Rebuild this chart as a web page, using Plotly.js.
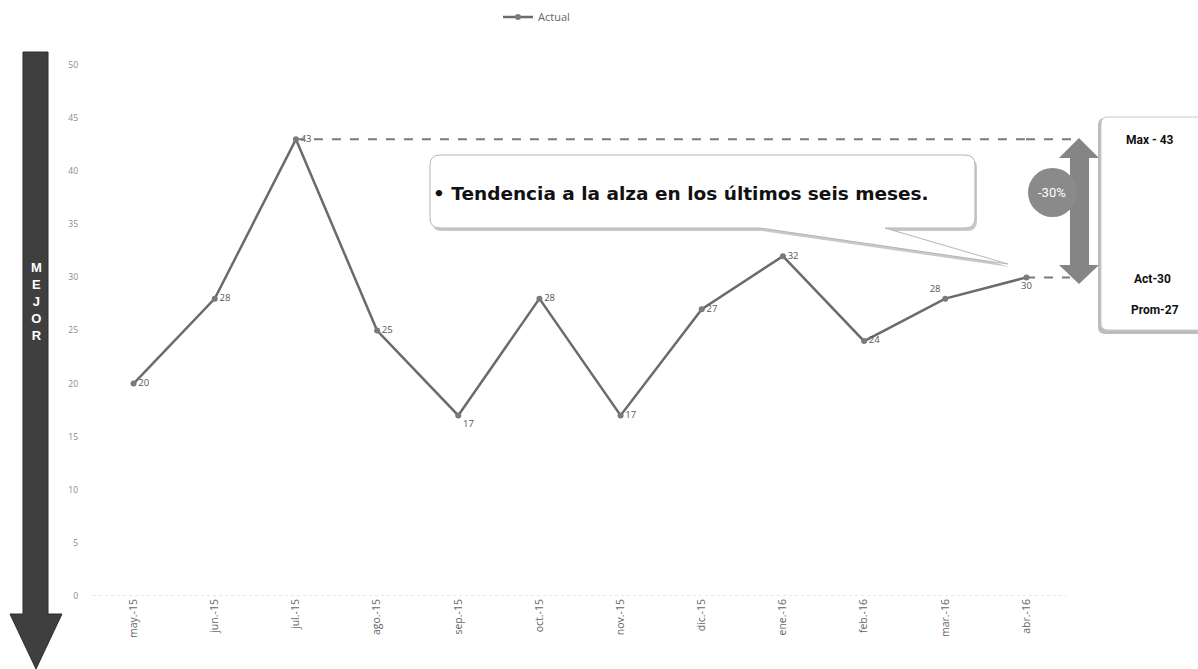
<!DOCTYPE html>
<html><head><meta charset="utf-8">
<script src="https://cdn.plot.ly/plotly-3.0.1.min.js"></script>
<style>body{margin:0;background:#fff}#chart{width:1198px;height:669px}</style>
</head><body><div id="chart"></div>
<script>
const categories = ["may.-15","jun.-15","jul.-15","ago.-15","sep.-15","oct.-15","nov.-15","dic.-15","ene.-16","feb.-16","mar.-16","abr.-16"];
const actual = [20,28,43,25,17,28,17,27,32,24,28,30];
const maxValue = 43;
const actValue = 30;
const promValue = 27;
const changeText = "-30%";
const yTicks = [0,5,10,15,20,25,30,35,40,45,50];

const labelPos = ["middle right","middle right","middle right","middle right","bottom right","middle right","middle right","middle right","middle right","middle right","top left","bottom center"];

const W = 1198, H = 669, L = 93, R = 131, T = 65, B = 73;
const pw = W - L - R, ph = H - T - B;
const px = x => (x - L) / pw;
const py = y => (H - B - y) / ph;
const P = (x, y) => px(x).toFixed(5) + "," + py(y).toFixed(5);

function roundRect(x0, y0, x1, y1, r) {
  return "M" + P(x0 + r, y0) + " L" + P(x1 - r, y0) + " Q" + P(x1, y0) + " " + P(x1, y0 + r) +
    " L" + P(x1, y1 - r) + " Q" + P(x1, y1) + " " + P(x1 - r, y1) +
    " L" + P(x0 + r, y1) + " Q" + P(x0, y1) + " " + P(x0, y1 - r) +
    " L" + P(x0, y0 + r) + " Q" + P(x0, y0) + " " + P(x0 + r, y0) + " Z";
}
function callout(dx, dy) {
  const x0 = 430 + dx, y0 = 155 + dy, x1 = 975 + dx, y1 = 228 + dy, r = 10;
  return "M" + P(x0 + r, y0) + " L" + P(x1 - r, y0) + " Q" + P(x1, y0) + " " + P(x1, y0 + r) +
    " L" + P(x1, y1 - r) + " Q" + P(x1, y1) + " " + P(x1 - r, y1) +
    " L" + P(885 + dx, y1) + " L" + P(1008 + dx, 264 + dy) + " L" + P(760 + dx, y1) +
    " L" + P(x0 + r, y1) + " Q" + P(x0, y1) + " " + P(x0, y1 - r) +
    " L" + P(x0, y0 + r) + " Q" + P(x0, y0) + " " + P(x0 + r, y0) + " Z";
}

const trace = {
  x: categories, y: actual, type: "scatter", mode: "lines+markers+text", name: "Actual",
  text: actual.map(String), textposition: labelPos,
  textfont: {family: "Open Sans, Liberation Sans, sans-serif", size: 9.5, color: "#555"},
  line: {color: "#6b6b6b", width: 2.5},
  marker: {color: "#7a7a7a", size: 6, symbol: "circle"},
  cliponaxis: false
};

const shapes = [
  {type: "line", xref: "paper", yref: "y", x0: 0, x1: 1, y0: 0, y1: 0, line: {color: "#cfcfcf", width: 1, dash: "dot"}},
  {type: "line", xref: "x", yref: "y", x0: 2, x1: 11, y0: maxValue, y1: maxValue, line: {color: "#7a7a7a", width: 2, dash: "dash"}},
  {type: "line", xref: "paper", yref: "y", x0: px(1026), x1: px(1076), y0: maxValue, y1: maxValue, line: {color: "#7a7a7a", width: 2, dash: "dash"}},
  {type: "line", xref: "paper", yref: "y", x0: px(1026), x1: px(1070), y0: actValue, y1: actValue, line: {color: "#7a7a7a", width: 2, dash: "dash"}},
  {type: "path", xref: "paper", yref: "paper", path: callout(2, 3), fillcolor: "#c8c8c8", line: {width: 0}, layer: "above"},
  {type: "path", xref: "paper", yref: "paper", path: callout(0, 0), fillcolor: "#ffffff", line: {color: "#b5b5b5", width: 1}, layer: "above"},
  {type: "path", xref: "paper", yref: "paper", path: roundRect(1098, 118, 1215, 334, 7), fillcolor: "#bdbdbd", line: {width: 0}, layer: "above"},
  {type: "path", xref: "paper", yref: "paper", path: roundRect(1101, 117, 1215, 330, 7), fillcolor: "#ffffff", line: {color: "#c9c9c9", width: 1}, layer: "above"},
  {type: "path", xref: "paper", yref: "paper", layer: "above",
   path: "M" + P(1079, 138) + " L" + P(1099, 158) + " L" + P(1089, 158) + " L" + P(1089, 265) + " L" + P(1099, 265) +
     " L" + P(1079, 284) + " L" + P(1059, 265) + " L" + P(1070, 265) + " L" + P(1070, 158) + " L" + P(1059, 158) + " Z",
   fillcolor: "#858585", line: {width: 0}},
  {type: "circle", xref: "paper", yref: "paper", layer: "above", x0: px(1028), x1: px(1077), y0: py(217), y1: py(168), fillcolor: "#8a8a8a", line: {width: 0}},
  {type: "path", xref: "paper", yref: "paper", layer: "above",
   path: "M" + P(23, 52) + " L" + P(48, 52) + " L" + P(48, 614) + " L" + P(62, 614) + " L" + P(36, 669) + " L" + P(10, 614) + " L" + P(23, 614) + " Z",
   fillcolor: "#3f3f3f", line: {color: "#2e2e2e", width: 1}}
];

const annotations = [
  {xref: "paper", yref: "paper", x: px(431), y: py(193), xanchor: "left", yanchor: "middle", showarrow: false,
   text: "<b>• Tendencia a la alza en los últimos seis meses.</b>",
   font: {family: "DejaVu Sans, sans-serif", size: 18.5, color: "#111"}},
  {xref: "paper", yref: "paper", x: px(1052), y: py(192), xanchor: "center", yanchor: "middle", showarrow: false,
   text: changeText, font: {family: "Roboto, Liberation Sans, sans-serif", size: 13, color: "#fff"}},
  {xref: "paper", yref: "paper", x: px(1150), y: py(140), xanchor: "center", yanchor: "middle", showarrow: false,
   text: "<b>Max - " + maxValue + "</b>", font: {family: "Roboto, Liberation Sans, sans-serif", size: 12, color: "#111"}},
  {xref: "paper", yref: "paper", x: px(1152), y: py(279), xanchor: "center", yanchor: "middle", showarrow: false,
   text: "<b>Act-" + actValue + "</b>", font: {family: "Roboto, Liberation Sans, sans-serif", size: 12, color: "#111"}},
  {xref: "paper", yref: "paper", x: px(1155), y: py(310), xanchor: "center", yanchor: "middle", showarrow: false,
   text: "<b>Prom-" + promValue + "</b>", font: {family: "Roboto, Liberation Sans, sans-serif", size: 12, color: "#111"}},
  {xref: "paper", yref: "paper", x: px(36), y: py(301), xanchor: "center", yanchor: "middle", showarrow: false,
   text: "<b>M<br>E<br>J<br>O<br>R</b>", font: {family: "Liberation Sans, Arial, sans-serif", size: 13, color: "#fff"}}
];

const layout = {
  width: W, height: H,
  margin: {l: L, r: R, t: T, b: B, pad: 0, autoexpand: false},
  paper_bgcolor: "#fff", plot_bgcolor: "#fff",
  showlegend: true,
  legend: {orientation: "h", x: px(498), y: py(17), xanchor: "left", yanchor: "middle",
           font: {family: "Open Sans, Liberation Sans, sans-serif", size: 11, color: "#666"}, bgcolor: "rgba(0,0,0,0)"},
  xaxis: {type: "category", range: [-0.5, 11.5], showgrid: false, zeroline: false, showline: false,
          tickangle: -90, ticks: "", tickfont: {family: "Open Sans, Liberation Sans, sans-serif", size: 10.5, color: "#666"}},
  yaxis: {range: [0, 50], tickvals: yTicks, ticktext: yTicks.map(String), showgrid: false, zeroline: false, showline: false,
          ticks: "", ticklabelstandoff: 14, tickfont: {family: "Open Sans, Liberation Sans, sans-serif", size: 8.5, color: "#888"}},
  shapes: shapes, annotations: annotations
};

Plotly.newPlot("chart", [trace], layout, {displayModeBar: false, staticPlot: true});
</script></body></html>
